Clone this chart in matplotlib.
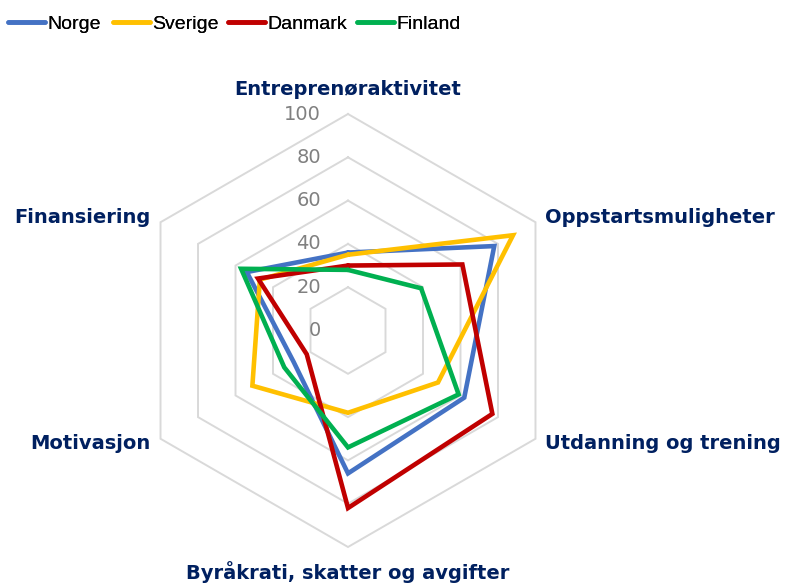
import numpy as np
import matplotlib
matplotlib.use("Agg")
import matplotlib.pyplot as plt

categories = ['Entreprenøraktivitet', 'Oppstartsmuligheter', 'Utdanning og trening',
              'Byråkrati, skatter og avgifter', 'Motivasjon', 'Finansiering']
series_names = ['Norge', 'Sverige', 'Danmark', 'Finland']
norge = [36, 78, 62, 66, 29, 54]
sverige = [35, 88, 48, 38, 51, 47]
danmark = [30, 61, 77, 82, 22, 48]
finland = [28, 39, 59, 54, 34, 57]
tick_values = [0, 20, 40, 60, 80, 100]
colors = ['#4472C4', '#FFC000', '#C00000', '#00B050']

W, H = 791, 585
fig = plt.figure(figsize=(W / 100, H / 100), dpi=100)
cx, cy, half = 348, 330.5, 240
ax = fig.add_axes([(cx - half) / W, (H - cy - half) / H, 2 * half / W, 2 * half / H])
lim = half / 2.165
ax.set_xlim(-lim, lim)
ax.set_ylim(-lim, lim)
ax.axis('off')

n = len(categories)
theta = np.deg2rad(90 - 60 * np.arange(n))
ct, st = np.cos(theta), np.sin(theta)

# hexagonal grid
for v in tick_values[1:]:
    ax.plot(np.append(v * ct, v * ct[0]), np.append(v * st, v * st[0]),
            color='#D9D9D9', lw=1.4, zorder=1, solid_joinstyle='miter')

# tick labels
for v in tick_values:
    ax.text(-12.5, v, str(v), ha='right', va='center', fontsize=14,
            color='#808080', zorder=2)

# series
handles = []
for name, vals, c in zip(series_names, [norge, sverige, danmark, finland], colors):
    vals = np.array(vals, dtype=float)
    ln, = ax.plot(np.append(vals * ct, vals[0] * ct[0]), np.append(vals * st, vals[0] * st[0]),
                  color=c, lw=3.3, label=name, zorder=3, solid_joinstyle='miter',
                  solid_capstyle='round')
    handles.append(ln)

# category labels
lab_kw = dict(fontsize=14, fontweight='bold', color='#002060', clip_on=False)
ax.text(0, 111.1, categories[0], ha='center', va='center', **lab_kw)
ax.text(91, 52, categories[1], ha='left', va='center', **lab_kw)
ax.text(91, -52, categories[2], ha='left', va='center', **lab_kw)
ax.text(0, -111.5, categories[3], ha='center', va='center', **lab_kw)
ax.text(-91, -52, categories[4], ha='right', va='center', **lab_kw)
ax.text(-91, 52, categories[5], ha='right', va='center', **lab_kw)

# legend entries placed like the reference
leg_x = [8, 113, 228, 357]
for h, name, x in zip(handles, series_names, leg_x):
    leg = fig.legend(handles=[h], labels=[name], loc='center left',
                     bbox_to_anchor=(x / W, 1 - 24 / H), frameon=False,
                     prop={'family': 'Liberation Sans', 'size': 14},
                     handlelength=1.9, handletextpad=0.1, borderpad=0,
                     borderaxespad=0)
    fig.add_artist(leg)

fig.savefig('out.png', dpi=100)
